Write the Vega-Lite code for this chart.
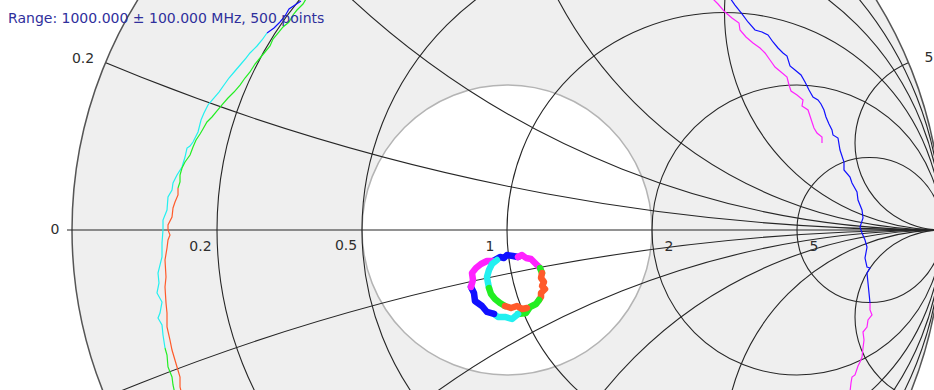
{
  "$schema": "https://vega.github.io/schema/vega-lite/v6.json",
  "width": 934,
  "height": 390,
  "padding": 0,
  "autosize": "none",
  "background": "white",
  "config": {"view": {"stroke": null}},
  "datasets": {
    "circles": [
      {"part": "chart", "family": "outer", "value": 0, "re": 0, "im": 0, "rad": 1},
      {"part": "match", "family": "vswr", "value": 2, "re": 0, "im": 0, "rad": 0.333333},
      {"part": "grid", "family": "resistance", "value": 0.2, "re": 0.166667, "im": 0, "rad": 0.833333},
      {"part": "grid", "family": "resistance", "value": 0.5, "re": 0.333333, "im": 0, "rad": 0.666667},
      {"part": "grid", "family": "resistance", "value": 1, "re": 0.5, "im": 0, "rad": 0.5},
      {"part": "grid", "family": "resistance", "value": 2, "re": 0.666667, "im": 0, "rad": 0.333333},
      {"part": "grid", "family": "resistance", "value": 5, "re": 0.833333, "im": 0, "rad": 0.166667},
      {"part": "grid", "family": "reactance", "value": 0.2, "re": 1, "im": 5, "rad": 5},
      {"part": "grid", "family": "reactance", "value": -0.2, "re": 1, "im": -5, "rad": 5},
      {"part": "grid", "family": "reactance", "value": 0.5, "re": 1, "im": 2, "rad": 2},
      {"part": "grid", "family": "reactance", "value": -0.5, "re": 1, "im": -2, "rad": 2},
      {"part": "grid", "family": "reactance", "value": 1, "re": 1, "im": 1, "rad": 1},
      {"part": "grid", "family": "reactance", "value": -1, "re": 1, "im": -1, "rad": 1},
      {"part": "grid", "family": "reactance", "value": 2, "re": 1, "im": 0.5, "rad": 0.5},
      {"part": "grid", "family": "reactance", "value": -2, "re": 1, "im": -0.5, "rad": 0.5},
      {"part": "grid", "family": "reactance", "value": 5, "re": 1, "im": 0.2, "rad": 0.2},
      {"part": "grid", "family": "reactance", "value": -5, "re": 1, "im": -0.2, "rad": 0.2}
    ],
    "labels": [
      {"text": "0.2", "re": -0.9747, "im": 0.3931},
      {"text": "0", "re": -1.0391, "im": 0},
      {"text": "5", "re": 0.9701, "im": 0.3954},
      {"text": "0.2", "re": -0.7046, "im": -0.0402},
      {"text": "0.5", "re": -0.3701, "im": -0.0368},
      {"text": "1", "re": -0.0391, "im": -0.0391},
      {"text": "2", "re": 0.3724, "im": -0.0391},
      {"text": "5", "re": 0.7057, "im": -0.0402}
    ],
    "note": [
      {"text": "Range: 1000.000 ± 100.000 MHz, 500 points", "re": -1.1471, "im": 0.4759}
    ],
    "traces": [
      {"trace": "L1", "seg": "L1a", "band": "blue", "i": 1, "re": -0.4736, "im": 0.5264},
      {"trace": "L1", "seg": "L1a", "band": "blue", "i": 2, "re": -0.4874, "im": 0.5172},
      {"trace": "L1", "seg": "L1a", "band": "blue", "i": 3, "re": -0.5011, "im": 0.5080},
      {"trace": "L1", "seg": "L1a", "band": "blue", "i": 4, "re": -0.5103, "im": 0.4920},
      {"trace": "L1", "seg": "L1a", "band": "blue", "i": 5, "re": -0.5218, "im": 0.4782},
      {"trace": "L1", "seg": "L1a", "band": "blue", "i": 6, "re": -0.5356, "im": 0.4644},
      {"trace": "L1", "seg": "L1a", "band": "blue", "i": 7, "re": -0.5517, "im": 0.4529},

      {"trace": "L1", "seg": "L1b", "band": "cyan", "i": 1, "re": -0.5517, "im": 0.4529},
      {"trace": "L1", "seg": "L1b", "band": "cyan", "i": 2, "re": -0.5632, "im": 0.4368},
      {"trace": "L1", "seg": "L1b", "band": "cyan", "i": 3, "re": -0.5747, "im": 0.4230},
      {"trace": "L1", "seg": "L1b", "band": "cyan", "i": 4, "re": -0.5908, "im": 0.4069},
      {"trace": "L1", "seg": "L1b", "band": "cyan", "i": 5, "re": -0.6000, "im": 0.3954},
      {"trace": "L1", "seg": "L1b", "band": "cyan", "i": 6, "re": -0.6115, "im": 0.3816},
      {"trace": "L1", "seg": "L1b", "band": "cyan", "i": 7, "re": -0.6253, "im": 0.3655},
      {"trace": "L1", "seg": "L1b", "band": "cyan", "i": 8, "re": -0.6391, "im": 0.3494},
      {"trace": "L1", "seg": "L1b", "band": "cyan", "i": 9, "re": -0.6506, "im": 0.3333},
      {"trace": "L1", "seg": "L1b", "band": "cyan", "i": 10, "re": -0.6621, "im": 0.3172},
      {"trace": "L1", "seg": "L1b", "band": "cyan", "i": 11, "re": -0.6759, "im": 0.3011},
      {"trace": "L1", "seg": "L1b", "band": "cyan", "i": 12, "re": -0.6874, "im": 0.2874},
      {"trace": "L1", "seg": "L1b", "band": "cyan", "i": 13, "re": -0.6966, "im": 0.2690},
      {"trace": "L1", "seg": "L1b", "band": "cyan", "i": 14, "re": -0.7034, "im": 0.2529},
      {"trace": "L1", "seg": "L1b", "band": "cyan", "i": 15, "re": -0.7103, "im": 0.2253},
      {"trace": "L1", "seg": "L1b", "band": "cyan", "i": 16, "re": -0.7218, "im": 0.2023},
      {"trace": "L1", "seg": "L1b", "band": "cyan", "i": 17, "re": -0.7287, "im": 0.1931},
      {"trace": "L1", "seg": "L1b", "band": "cyan", "i": 18, "re": -0.7356, "im": 0.1885},
      {"trace": "L1", "seg": "L1b", "band": "cyan", "i": 19, "re": -0.7402, "im": 0.1678},
      {"trace": "L1", "seg": "L1b", "band": "cyan", "i": 20, "re": -0.7471, "im": 0.1448},
      {"trace": "L1", "seg": "L1b", "band": "cyan", "i": 21, "re": -0.7586, "im": 0.1264},
      {"trace": "L1", "seg": "L1b", "band": "cyan", "i": 22, "re": -0.7678, "im": 0.1080},
      {"trace": "L1", "seg": "L1b", "band": "cyan", "i": 23, "re": -0.7701, "im": 0.0920},
      {"trace": "L1", "seg": "L1b", "band": "cyan", "i": 24, "re": -0.7793, "im": 0.0759},
      {"trace": "L1", "seg": "L1b", "band": "cyan", "i": 25, "re": -0.7816, "im": 0.0460},
      {"trace": "L1", "seg": "L1b", "band": "cyan", "i": 26, "re": -0.7908, "im": 0.0230},
      {"trace": "L1", "seg": "L1b", "band": "cyan", "i": 27, "re": -0.7908, "im": 0.0},
      {"trace": "L1", "seg": "L1b", "band": "cyan", "i": 28, "re": -0.7931, "im": -0.0299},
      {"trace": "L1", "seg": "L1b", "band": "cyan", "i": 29, "re": -0.7931, "im": -0.0621},
      {"trace": "L1", "seg": "L1b", "band": "cyan", "i": 30, "re": -0.8023, "im": -0.0989},
      {"trace": "L1", "seg": "L1b", "band": "cyan", "i": 31, "re": -0.8000, "im": -0.1218},
      {"trace": "L1", "seg": "L1b", "band": "cyan", "i": 32, "re": -0.8046, "im": -0.1448},
      {"trace": "L1", "seg": "L1b", "band": "cyan", "i": 33, "re": -0.7931, "im": -0.1655},
      {"trace": "L1", "seg": "L1b", "band": "cyan", "i": 34, "re": -0.7977, "im": -0.1908},
      {"trace": "L1", "seg": "L1b", "band": "cyan", "i": 35, "re": -0.8023, "im": -0.2023},
      {"trace": "L1", "seg": "L1b", "band": "cyan", "i": 36, "re": -0.7931, "im": -0.2184},
      {"trace": "L1", "seg": "L1b", "band": "cyan", "i": 37, "re": -0.7908, "im": -0.2414},
      {"trace": "L1", "seg": "L1b", "band": "cyan", "i": 38, "re": -0.7862, "im": -0.2713},

      {"trace": "L1", "seg": "L1c", "band": "green", "i": 1, "re": -0.7862, "im": -0.2713},
      {"trace": "L1", "seg": "L1c", "band": "green", "i": 2, "re": -0.7816, "im": -0.2874},
      {"trace": "L1", "seg": "L1c", "band": "green", "i": 3, "re": -0.7793, "im": -0.3149},
      {"trace": "L1", "seg": "L1c", "band": "green", "i": 4, "re": -0.7701, "im": -0.3379},
      {"trace": "L1", "seg": "L1c", "band": "green", "i": 5, "re": -0.7678, "im": -0.3563},
      {"trace": "L1", "seg": "L1c", "band": "green", "i": 6, "re": -0.7632, "im": -0.3770},

      {"trace": "L2", "seg": "L2a", "band": "green", "i": 1, "re": -0.4621, "im": 0.5310},
      {"trace": "L2", "seg": "L2a", "band": "green", "i": 2, "re": -0.4690, "im": 0.5195},
      {"trace": "L2", "seg": "L2a", "band": "green", "i": 3, "re": -0.4828, "im": 0.5057},
      {"trace": "L2", "seg": "L2a", "band": "green", "i": 4, "re": -0.4920, "im": 0.4943},
      {"trace": "L2", "seg": "L2a", "band": "green", "i": 5, "re": -0.5011, "im": 0.4782},
      {"trace": "L2", "seg": "L2a", "band": "green", "i": 6, "re": -0.5149, "im": 0.4667},
      {"trace": "L2", "seg": "L2a", "band": "green", "i": 7, "re": -0.5241, "im": 0.4552},
      {"trace": "L2", "seg": "L2a", "band": "green", "i": 8, "re": -0.5379, "im": 0.4391},
      {"trace": "L2", "seg": "L2a", "band": "green", "i": 9, "re": -0.5448, "im": 0.4230},
      {"trace": "L2", "seg": "L2a", "band": "green", "i": 10, "re": -0.5563, "im": 0.4092},
      {"trace": "L2", "seg": "L2a", "band": "green", "i": 11, "re": -0.5678, "im": 0.3954},
      {"trace": "L2", "seg": "L2a", "band": "green", "i": 12, "re": -0.5793, "im": 0.3816},
      {"trace": "L2", "seg": "L2a", "band": "green", "i": 13, "re": -0.5908, "im": 0.3632},
      {"trace": "L2", "seg": "L2a", "band": "green", "i": 14, "re": -0.6023, "im": 0.3494},
      {"trace": "L2", "seg": "L2a", "band": "green", "i": 15, "re": -0.6138, "im": 0.3333},
      {"trace": "L2", "seg": "L2a", "band": "green", "i": 16, "re": -0.6276, "im": 0.3172},
      {"trace": "L2", "seg": "L2a", "band": "green", "i": 17, "re": -0.6414, "im": 0.3034},
      {"trace": "L2", "seg": "L2a", "band": "green", "i": 18, "re": -0.6552, "im": 0.2874},
      {"trace": "L2", "seg": "L2a", "band": "green", "i": 19, "re": -0.6667, "im": 0.2736},
      {"trace": "L2", "seg": "L2a", "band": "green", "i": 20, "re": -0.6782, "im": 0.2598},
      {"trace": "L2", "seg": "L2a", "band": "green", "i": 21, "re": -0.6897, "im": 0.2483},
      {"trace": "L2", "seg": "L2a", "band": "green", "i": 22, "re": -0.6989, "im": 0.2322},
      {"trace": "L2", "seg": "L2a", "band": "green", "i": 23, "re": -0.7057, "im": 0.2207},
      {"trace": "L2", "seg": "L2a", "band": "green", "i": 24, "re": -0.7149, "im": 0.2069},
      {"trace": "L2", "seg": "L2a", "band": "green", "i": 25, "re": -0.7218, "im": 0.1908},
      {"trace": "L2", "seg": "L2a", "band": "green", "i": 26, "re": -0.7287, "im": 0.1724},
      {"trace": "L2", "seg": "L2a", "band": "green", "i": 27, "re": -0.7402, "im": 0.1563},
      {"trace": "L2", "seg": "L2a", "band": "green", "i": 28, "re": -0.7471, "im": 0.1425},
      {"trace": "L2", "seg": "L2a", "band": "green", "i": 29, "re": -0.7517, "im": 0.1264},
      {"trace": "L2", "seg": "L2a", "band": "green", "i": 30, "re": -0.7517, "im": 0.1103},
      {"trace": "L2", "seg": "L2a", "band": "green", "i": 31, "re": -0.7563, "im": 0.0966},

      {"trace": "L2", "seg": "L2b", "band": "orange", "i": 1, "re": -0.7563, "im": 0.0966},
      {"trace": "L2", "seg": "L2b", "band": "orange", "i": 2, "re": -0.7563, "im": 0.0805},
      {"trace": "L2", "seg": "L2b", "band": "orange", "i": 3, "re": -0.7632, "im": 0.0644},
      {"trace": "L2", "seg": "L2b", "band": "orange", "i": 4, "re": -0.7678, "im": 0.0506},
      {"trace": "L2", "seg": "L2b", "band": "orange", "i": 5, "re": -0.7701, "im": 0.0299},
      {"trace": "L2", "seg": "L2b", "band": "orange", "i": 6, "re": -0.7793, "im": 0.0115},
      {"trace": "L2", "seg": "L2b", "band": "orange", "i": 7, "re": -0.7793, "im": 0.0},
      {"trace": "L2", "seg": "L2b", "band": "orange", "i": 8, "re": -0.7747, "im": -0.0115},
      {"trace": "L2", "seg": "L2b", "band": "orange", "i": 9, "re": -0.7793, "im": -0.0230},
      {"trace": "L2", "seg": "L2b", "band": "orange", "i": 10, "re": -0.7816, "im": -0.0414},
      {"trace": "L2", "seg": "L2b", "band": "orange", "i": 11, "re": -0.7862, "im": -0.0690},
      {"trace": "L2", "seg": "L2b", "band": "orange", "i": 12, "re": -0.7839, "im": -0.1080},
      {"trace": "L2", "seg": "L2b", "band": "orange", "i": 13, "re": -0.7862, "im": -0.1310},
      {"trace": "L2", "seg": "L2b", "band": "orange", "i": 14, "re": -0.7839, "im": -0.1678},
      {"trace": "L2", "seg": "L2b", "band": "orange", "i": 15, "re": -0.7816, "im": -0.1908},
      {"trace": "L2", "seg": "L2b", "band": "orange", "i": 16, "re": -0.7816, "im": -0.2230},
      {"trace": "L2", "seg": "L2b", "band": "orange", "i": 17, "re": -0.7747, "im": -0.2529},
      {"trace": "L2", "seg": "L2b", "band": "orange", "i": 18, "re": -0.7701, "im": -0.2759},
      {"trace": "L2", "seg": "L2b", "band": "orange", "i": 19, "re": -0.7586, "im": -0.3149},
      {"trace": "L2", "seg": "L2b", "band": "orange", "i": 20, "re": -0.7517, "im": -0.3379},
      {"trace": "L2", "seg": "L2b", "band": "orange", "i": 21, "re": -0.7517, "im": -0.3609},
      {"trace": "L2", "seg": "L2b", "band": "orange", "i": 22, "re": -0.7471, "im": -0.3793},

      {"trace": "R1", "seg": "R1a", "band": "magenta", "i": 1, "re": 0.4713, "im": 0.5333},
      {"trace": "R1", "seg": "R1a", "band": "magenta", "i": 2, "re": 0.4851, "im": 0.5195},
      {"trace": "R1", "seg": "R1a", "band": "magenta", "i": 3, "re": 0.5011, "im": 0.5011},
      {"trace": "R1", "seg": "R1a", "band": "magenta", "i": 4, "re": 0.5172, "im": 0.4874},
      {"trace": "R1", "seg": "R1a", "band": "magenta", "i": 5, "re": 0.5333, "im": 0.4759},
      {"trace": "R1", "seg": "R1a", "band": "magenta", "i": 6, "re": 0.5356, "im": 0.4598},
      {"trace": "R1", "seg": "R1a", "band": "magenta", "i": 7, "re": 0.5494, "im": 0.4437},
      {"trace": "R1", "seg": "R1a", "band": "magenta", "i": 8, "re": 0.5655, "im": 0.4299},
      {"trace": "R1", "seg": "R1a", "band": "magenta", "i": 9, "re": 0.5816, "im": 0.4184},
      {"trace": "R1", "seg": "R1a", "band": "magenta", "i": 10, "re": 0.5931, "im": 0.4069},
      {"trace": "R1", "seg": "R1a", "band": "magenta", "i": 11, "re": 0.6046, "im": 0.3908},
      {"trace": "R1", "seg": "R1a", "band": "magenta", "i": 12, "re": 0.6161, "im": 0.3747},
      {"trace": "R1", "seg": "R1a", "band": "magenta", "i": 13, "re": 0.6299, "im": 0.3632},
      {"trace": "R1", "seg": "R1a", "band": "magenta", "i": 14, "re": 0.6437, "im": 0.3517},
      {"trace": "R1", "seg": "R1a", "band": "magenta", "i": 15, "re": 0.6483, "im": 0.3333},
      {"trace": "R1", "seg": "R1a", "band": "magenta", "i": 16, "re": 0.6529, "im": 0.3195},
      {"trace": "R1", "seg": "R1a", "band": "magenta", "i": 17, "re": 0.6667, "im": 0.3103},
      {"trace": "R1", "seg": "R1a", "band": "magenta", "i": 18, "re": 0.6805, "im": 0.2989},
      {"trace": "R1", "seg": "R1a", "band": "magenta", "i": 19, "re": 0.6782, "im": 0.2851},
      {"trace": "R1", "seg": "R1a", "band": "magenta", "i": 20, "re": 0.6920, "im": 0.2759},
      {"trace": "R1", "seg": "R1a", "band": "magenta", "i": 21, "re": 0.6966, "im": 0.2621},
      {"trace": "R1", "seg": "R1a", "band": "magenta", "i": 22, "re": 0.7011, "im": 0.2483},
      {"trace": "R1", "seg": "R1a", "band": "magenta", "i": 23, "re": 0.7057, "im": 0.2345},
      {"trace": "R1", "seg": "R1a", "band": "magenta", "i": 24, "re": 0.7126, "im": 0.2230},
      {"trace": "R1", "seg": "R1a", "band": "magenta", "i": 25, "re": 0.7241, "im": 0.2138},
      {"trace": "R1", "seg": "R1a", "band": "magenta", "i": 26, "re": 0.7241, "im": 0.2000},

      {"trace": "R2", "seg": "R2a", "band": "blue", "i": 1, "re": 0.5126, "im": 0.5333},
      {"trace": "R2", "seg": "R2a", "band": "blue", "i": 2, "re": 0.5241, "im": 0.5172},
      {"trace": "R2", "seg": "R2a", "band": "blue", "i": 3, "re": 0.5402, "im": 0.4966},
      {"trace": "R2", "seg": "R2a", "band": "blue", "i": 4, "re": 0.5540, "im": 0.4782},
      {"trace": "R2", "seg": "R2a", "band": "blue", "i": 5, "re": 0.5701, "im": 0.4598},
      {"trace": "R2", "seg": "R2a", "band": "blue", "i": 6, "re": 0.5862, "im": 0.4552},
      {"trace": "R2", "seg": "R2a", "band": "blue", "i": 7, "re": 0.6000, "im": 0.4483},
      {"trace": "R2", "seg": "R2a", "band": "blue", "i": 8, "re": 0.6115, "im": 0.4322},
      {"trace": "R2", "seg": "R2a", "band": "blue", "i": 9, "re": 0.6230, "im": 0.4184},
      {"trace": "R2", "seg": "R2a", "band": "blue", "i": 10, "re": 0.6345, "im": 0.4069},
      {"trace": "R2", "seg": "R2a", "band": "blue", "i": 11, "re": 0.6437, "im": 0.4000},
      {"trace": "R2", "seg": "R2a", "band": "blue", "i": 12, "re": 0.6506, "im": 0.3770},
      {"trace": "R2", "seg": "R2a", "band": "blue", "i": 13, "re": 0.6621, "im": 0.3678},
      {"trace": "R2", "seg": "R2a", "band": "blue", "i": 14, "re": 0.6759, "im": 0.3563},
      {"trace": "R2", "seg": "R2a", "band": "blue", "i": 15, "re": 0.6851, "im": 0.3402},
      {"trace": "R2", "seg": "R2a", "band": "blue", "i": 16, "re": 0.6943, "im": 0.3218},
      {"trace": "R2", "seg": "R2a", "band": "blue", "i": 17, "re": 0.7034, "im": 0.3057},
      {"trace": "R2", "seg": "R2a", "band": "blue", "i": 18, "re": 0.7149, "im": 0.2989},
      {"trace": "R2", "seg": "R2a", "band": "blue", "i": 19, "re": 0.7218, "im": 0.2897},
      {"trace": "R2", "seg": "R2a", "band": "blue", "i": 20, "re": 0.7287, "im": 0.2759},
      {"trace": "R2", "seg": "R2a", "band": "blue", "i": 21, "re": 0.7333, "im": 0.2598},
      {"trace": "R2", "seg": "R2a", "band": "blue", "i": 22, "re": 0.7402, "im": 0.2437},
      {"trace": "R2", "seg": "R2a", "band": "blue", "i": 23, "re": 0.7471, "im": 0.2299},
      {"trace": "R2", "seg": "R2a", "band": "blue", "i": 24, "re": 0.7494, "im": 0.2184},
      {"trace": "R2", "seg": "R2a", "band": "blue", "i": 25, "re": 0.7609, "im": 0.2115},
      {"trace": "R2", "seg": "R2a", "band": "blue", "i": 26, "re": 0.7655, "im": 0.1839},
      {"trace": "R2", "seg": "R2a", "band": "blue", "i": 27, "re": 0.7747, "im": 0.1563},
      {"trace": "R2", "seg": "R2a", "band": "blue", "i": 28, "re": 0.7747, "im": 0.1379},
      {"trace": "R2", "seg": "R2a", "band": "blue", "i": 29, "re": 0.7885, "im": 0.1218},
      {"trace": "R2", "seg": "R2a", "band": "blue", "i": 30, "re": 0.7931, "im": 0.1080},
      {"trace": "R2", "seg": "R2a", "band": "blue", "i": 31, "re": 0.8046, "im": 0.0874},
      {"trace": "R2", "seg": "R2a", "band": "blue", "i": 32, "re": 0.8069, "im": 0.0690},
      {"trace": "R2", "seg": "R2a", "band": "blue", "i": 33, "re": 0.8161, "im": 0.0460},
      {"trace": "R2", "seg": "R2a", "band": "blue", "i": 34, "re": 0.8184, "im": 0.0276},
      {"trace": "R2", "seg": "R2a", "band": "blue", "i": 35, "re": 0.8115, "im": 0.0069},
      {"trace": "R2", "seg": "R2a", "band": "blue", "i": 36, "re": 0.8161, "im": -0.0069},
      {"trace": "R2", "seg": "R2a", "band": "blue", "i": 37, "re": 0.8230, "im": -0.0230},
      {"trace": "R2", "seg": "R2a", "band": "blue", "i": 38, "re": 0.8276, "im": -0.0391},
      {"trace": "R2", "seg": "R2a", "band": "blue", "i": 39, "re": 0.8230, "im": -0.0644},
      {"trace": "R2", "seg": "R2a", "band": "blue", "i": 40, "re": 0.8276, "im": -0.0851},
      {"trace": "R2", "seg": "R2a", "band": "blue", "i": 41, "re": 0.8345, "im": -0.0874},
      {"trace": "R2", "seg": "R2a", "band": "blue", "i": 42, "re": 0.8276, "im": -0.0989},
      {"trace": "R2", "seg": "R2a", "band": "blue", "i": 43, "re": 0.8299, "im": -0.1218},
      {"trace": "R2", "seg": "R2a", "band": "blue", "i": 44, "re": 0.8322, "im": -0.1448},
      {"trace": "R2", "seg": "R2a", "band": "blue", "i": 45, "re": 0.8345, "im": -0.1678},

      {"trace": "R2", "seg": "R2b", "band": "magenta", "i": 1, "re": 0.8345, "im": -0.1678},
      {"trace": "R2", "seg": "R2b", "band": "magenta", "i": 2, "re": 0.8345, "im": -0.1839},
      {"trace": "R2", "seg": "R2b", "band": "magenta", "i": 3, "re": 0.8391, "im": -0.1954},
      {"trace": "R2", "seg": "R2b", "band": "magenta", "i": 4, "re": 0.8299, "im": -0.2069},
      {"trace": "R2", "seg": "R2b", "band": "magenta", "i": 5, "re": 0.8276, "im": -0.2230},
      {"trace": "R2", "seg": "R2b", "band": "magenta", "i": 6, "re": 0.8184, "im": -0.2345},
      {"trace": "R2", "seg": "R2b", "band": "magenta", "i": 7, "re": 0.8207, "im": -0.2529},
      {"trace": "R2", "seg": "R2b", "band": "magenta", "i": 8, "re": 0.8184, "im": -0.2713},
      {"trace": "R2", "seg": "R2b", "band": "magenta", "i": 9, "re": 0.8161, "im": -0.2920},
      {"trace": "R2", "seg": "R2b", "band": "magenta", "i": 10, "re": 0.8115, "im": -0.3034},
      {"trace": "R2", "seg": "R2b", "band": "magenta", "i": 11, "re": 0.8069, "im": -0.3126},
      {"trace": "R2", "seg": "R2b", "band": "magenta", "i": 12, "re": 0.8000, "im": -0.3333},
      {"trace": "R2", "seg": "R2b", "band": "magenta", "i": 13, "re": 0.7931, "im": -0.3379},
      {"trace": "R2", "seg": "R2b", "band": "magenta", "i": 14, "re": 0.7908, "im": -0.3517},
      {"trace": "R2", "seg": "R2b", "band": "magenta", "i": 15, "re": 0.7885, "im": -0.3724},

      {"trace": "near", "seg": "Na", "band": "blue", "i": 1, "re": -0.0322, "im": -0.0713},
      {"trace": "near", "seg": "Na", "band": "blue", "i": 2, "re": -0.0161, "im": -0.0621},
      {"trace": "near", "seg": "Na", "band": "blue", "i": 3, "re": -0.0069, "im": -0.0644},
      {"trace": "near", "seg": "Na", "band": "blue", "i": 4, "re": 0.0, "im": -0.0575},
      {"trace": "near", "seg": "Na", "band": "blue", "i": 5, "re": 0.0138, "im": -0.0598},
      {"trace": "near", "seg": "Na", "band": "blue", "i": 6, "re": 0.0253, "im": -0.0621},
      {"trace": "near", "seg": "Nb", "band": "magenta", "i": 1, "re": 0.0253, "im": -0.0621},
      {"trace": "near", "seg": "Nb", "band": "magenta", "i": 2, "re": 0.0345, "im": -0.0575},
      {"trace": "near", "seg": "Nb", "band": "magenta", "i": 3, "re": 0.0437, "im": -0.0644},
      {"trace": "near", "seg": "Nb", "band": "magenta", "i": 4, "re": 0.0552, "im": -0.0667},
      {"trace": "near", "seg": "Nb", "band": "magenta", "i": 5, "re": 0.0667, "im": -0.0782},
      {"trace": "near", "seg": "Nb", "band": "magenta", "i": 6, "re": 0.0759, "im": -0.0874},
      {"trace": "near", "seg": "Nc", "band": "green", "i": 1, "re": 0.0759, "im": -0.0874},
      {"trace": "near", "seg": "Nc", "band": "green", "i": 2, "re": 0.0805, "im": -0.0989},
      {"trace": "near", "seg": "Nd", "band": "orange", "i": 1, "re": 0.0805, "im": -0.0989},
      {"trace": "near", "seg": "Nd", "band": "orange", "i": 2, "re": 0.0782, "im": -0.1103},
      {"trace": "near", "seg": "Nd", "band": "orange", "i": 3, "re": 0.0851, "im": -0.1195},
      {"trace": "near", "seg": "Nd", "band": "orange", "i": 4, "re": 0.0805, "im": -0.1287},
      {"trace": "near", "seg": "Nd", "band": "orange", "i": 5, "re": 0.0874, "im": -0.1356},
      {"trace": "near", "seg": "Nd", "band": "orange", "i": 6, "re": 0.0782, "im": -0.1448},
      {"trace": "near", "seg": "Nd", "band": "orange", "i": 7, "re": 0.0782, "im": -0.1540},
      {"trace": "near", "seg": "Nd", "band": "orange", "i": 8, "re": 0.0736, "im": -0.1609},
      {"trace": "near", "seg": "Ne", "band": "green", "i": 1, "re": 0.0736, "im": -0.1609},
      {"trace": "near", "seg": "Ne", "band": "green", "i": 2, "re": 0.0667, "im": -0.1701},
      {"trace": "near", "seg": "Ne", "band": "green", "i": 3, "re": 0.0529, "im": -0.1770},
      {"trace": "near", "seg": "Ne", "band": "green", "i": 4, "re": 0.0437, "im": -0.1908},
      {"trace": "near", "seg": "Ne", "band": "green", "i": 5, "re": 0.0253, "im": -0.1931},
      {"trace": "near", "seg": "Nf", "band": "cyan", "i": 1, "re": 0.0253, "im": -0.1931},
      {"trace": "near", "seg": "Nf", "band": "cyan", "i": 2, "re": 0.0115, "im": -0.2046},
      {"trace": "near", "seg": "Nf", "band": "cyan", "i": 3, "re": -0.0046, "im": -0.2000},
      {"trace": "near", "seg": "Nf", "band": "cyan", "i": 4, "re": -0.0207, "im": -0.2000},
      {"trace": "near", "seg": "Nf", "band": "cyan", "i": 5, "re": -0.0299, "im": -0.1931},
      {"trace": "near", "seg": "Ng", "band": "blue", "i": 1, "re": -0.0299, "im": -0.1931},
      {"trace": "near", "seg": "Ng", "band": "blue", "i": 2, "re": -0.0460, "im": -0.1885},
      {"trace": "near", "seg": "Ng", "band": "blue", "i": 3, "re": -0.0575, "im": -0.1747},
      {"trace": "near", "seg": "Ng", "band": "blue", "i": 4, "re": -0.0736, "im": -0.1632},
      {"trace": "near", "seg": "Ng", "band": "blue", "i": 5, "re": -0.0759, "im": -0.1448},
      {"trace": "near", "seg": "Ng", "band": "blue", "i": 6, "re": -0.0828, "im": -0.1310},
      {"trace": "near", "seg": "Nh", "band": "magenta", "i": 1, "re": -0.0828, "im": -0.1310},
      {"trace": "near", "seg": "Nh", "band": "magenta", "i": 2, "re": -0.0782, "im": -0.1149},
      {"trace": "near", "seg": "Nh", "band": "magenta", "i": 3, "re": -0.0805, "im": -0.0989},
      {"trace": "near", "seg": "Nh", "band": "magenta", "i": 4, "re": -0.0713, "im": -0.0874},
      {"trace": "near", "seg": "Nh", "band": "magenta", "i": 5, "re": -0.0598, "im": -0.0782},
      {"trace": "near", "seg": "Nh", "band": "magenta", "i": 6, "re": -0.0460, "im": -0.0713},
      {"trace": "near", "seg": "Nh", "band": "magenta", "i": 7, "re": -0.0322, "im": -0.0713},
      {"trace": "near", "seg": "Ni", "band": "cyan", "i": 1, "re": -0.0230, "im": -0.0690},
      {"trace": "near", "seg": "Ni", "band": "cyan", "i": 2, "re": -0.0345, "im": -0.0782},
      {"trace": "near", "seg": "Ni", "band": "cyan", "i": 3, "re": -0.0414, "im": -0.0920},
      {"trace": "near", "seg": "Ni", "band": "cyan", "i": 4, "re": -0.0460, "im": -0.1080},
      {"trace": "near", "seg": "Ni", "band": "cyan", "i": 5, "re": -0.0437, "im": -0.1218},
      {"trace": "near", "seg": "Ni", "band": "cyan", "i": 6, "re": -0.0414, "im": -0.1333},
      {"trace": "near", "seg": "Nj", "band": "green", "i": 1, "re": -0.0414, "im": -0.1333},
      {"trace": "near", "seg": "Nj", "band": "green", "i": 2, "re": -0.0368, "im": -0.1471},
      {"trace": "near", "seg": "Nj", "band": "green", "i": 3, "re": -0.0276, "im": -0.1586},
      {"trace": "near", "seg": "Nj", "band": "green", "i": 4, "re": -0.0161, "im": -0.1678},
      {"trace": "near", "seg": "Nj", "band": "green", "i": 5, "re": -0.0046, "im": -0.1747},
      {"trace": "near", "seg": "Nk", "band": "orange", "i": 1, "re": -0.0046, "im": -0.1747},
      {"trace": "near", "seg": "Nk", "band": "orange", "i": 2, "re": 0.0092, "im": -0.1793},
      {"trace": "near", "seg": "Nk", "band": "orange", "i": 3, "re": 0.0230, "im": -0.1747},
      {"trace": "near", "seg": "Nk", "band": "orange", "i": 4, "re": 0.0345, "im": -0.1816},
      {"trace": "near", "seg": "Nk", "band": "orange", "i": 5, "re": 0.0460, "im": -0.1793}
    ]
  },
  "encoding": {
    "x": {"field": "re", "type": "quantitative", "axis": null,
          "scale": {"domain": [-1.16552, 0.98161], "nice": false, "zero": false}},
    "y": {"field": "im", "type": "quantitative", "axis": null,
          "scale": {"domain": [-0.36782, 0.52874], "nice": false, "zero": false}}
  },
  "layer": [
    {
      "data": {"name": "circles"},
      "transform": [{"filter": "datum.part === 'chart'"}],
      "mark": {"type": "point", "shape": "circle", "filled": true, "color": "#efefef", "opacity": 1, "strokeWidth": 0, "clip": true},
      "encoding": {
        "size": {"field": "rad", "type": "quantitative", "legend": null,
                 "scale": {"type": "pow", "exponent": 2, "domain": [0, 1], "range": [0, 756900]}}
      }
    },
    {
      "data": {"name": "circles"},
      "transform": [{"filter": "datum.part === 'match'"}],
      "mark": {"type": "point", "shape": "circle", "filled": true, "fill": "white", "stroke": "#b4b4b4", "strokeWidth": 1.5, "opacity": 1, "clip": true},
      "encoding": {
        "size": {"field": "rad", "type": "quantitative", "legend": null,
                 "scale": {"type": "pow", "exponent": 2, "domain": [0, 1], "range": [0, 756900]}}
      }
    },
    {
      "data": {"name": "circles"},
      "transform": [{"filter": "datum.part === 'grid'"}],
      "mark": {"type": "point", "shape": "circle", "filled": false, "color": "#262626", "strokeWidth": 1.1, "opacity": 1, "clip": true},
      "encoding": {
        "size": {"field": "rad", "type": "quantitative", "legend": null,
                 "scale": {"type": "pow", "exponent": 2, "domain": [0, 1], "range": [0, 756900]}}
      }
    },
    {
      "description": "white ring that hides the grid outside the unit circle",
      "data": {"values": [{"re": 0, "im": 0}]},
      "mark": {"type": "point", "shape": "circle", "filled": false, "stroke": "white", "strokeWidth": 300, "size": 1368900, "opacity": 1, "clip": true}
    },
    {
      "data": {"name": "circles"},
      "transform": [{"filter": "datum.part === 'chart'"}],
      "mark": {"type": "point", "shape": "circle", "filled": false, "color": "#555555", "strokeWidth": 1.5, "opacity": 1, "clip": true},
      "encoding": {
        "size": {"field": "rad", "type": "quantitative", "legend": null,
                 "scale": {"type": "pow", "exponent": 2, "domain": [0, 1], "range": [0, 756900]}}
      }
    },
    {
      "description": "zero-reactance line",
      "data": {"values": [{"re": -1.0115, "re2": 1.0, "im": 0}]},
      "mark": {"type": "rule", "color": "#262626", "strokeWidth": 1.2},
      "encoding": {
        "x2": {"field": "re2"}
      }
    },
    {
      "data": {"name": "labels"},
      "mark": {"type": "text", "font": "DejaVu Sans", "fontSize": 14, "color": "#2e2e2e", "align": "center", "baseline": "middle"},
      "encoding": {"text": {"field": "text"}}
    },
    {
      "data": {"name": "traces"},
      "transform": [{"filter": "datum.trace !== 'near'"}],
      "mark": {"type": "line", "strokeWidth": 1.2, "clip": true},
      "encoding": {
        "color": {"field": "band", "type": "nominal", "legend": null,
                  "scale": {"domain": ["blue", "magenta", "cyan", "green", "orange"],
                            "range": ["#1010ff", "#ff22ff", "#22f0f0", "#22ee22", "#ff5a2a"]}},
        "detail": {"field": "seg"},
        "order": {"field": "i", "type": "quantitative"}
      }
    },
    {
      "data": {"name": "traces"},
      "transform": [{"filter": "datum.trace === 'near'"}],
      "mark": {"type": "line", "strokeWidth": 6.5, "strokeJoin": "round", "strokeCap": "round", "clip": true},
      "encoding": {
        "color": {"field": "band", "type": "nominal", "legend": null,
                  "scale": {"domain": ["blue", "magenta", "cyan", "green", "orange"],
                            "range": ["#1010ff", "#ff22ff", "#22f0f0", "#22ee22", "#ff5a2a"]}},
        "detail": {"field": "seg"},
        "order": {"field": "i", "type": "quantitative"}
      }
    },
    {
      "data": {"name": "note"},
      "mark": {"type": "text", "font": "DejaVu Sans", "fontSize": 14, "color": "#2f2f9c", "align": "left", "baseline": "alphabetic"},
      "encoding": {"text": {"field": "text"}}
    }
  ]
}
